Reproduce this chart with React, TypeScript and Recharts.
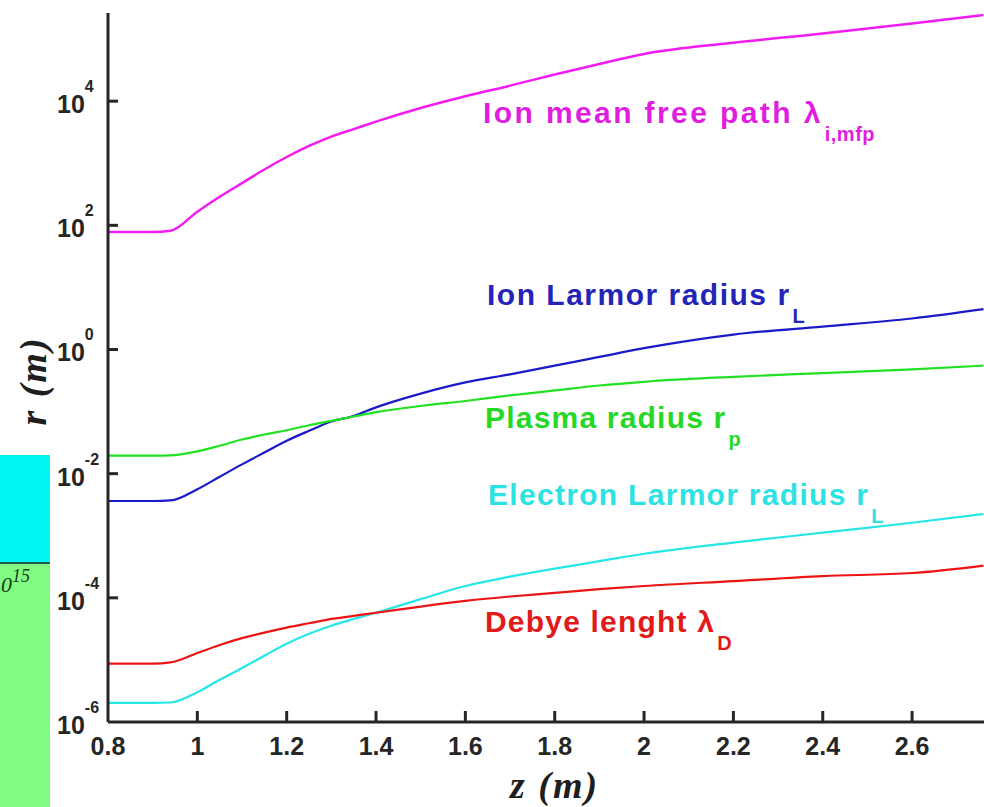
import React from "react";
import { LineChart, Line, XAxis, YAxis } from "recharts";

const zValues = [0.8, 0.9, 0.94, 1.0, 1.05, 1.1, 1.15, 1.2, 1.25, 1.3, 1.35, 1.4, 1.5, 1.6, 1.7, 1.8, 1.9, 2.0, 2.2, 2.4, 2.6, 2.76];

// radii / lengths in m
const ionMeanFreePath = [78, 78, 82, 166, 288, 479, 794, 1260, 1900, 2690, 3550, 4680, 7760, 1.2e4, 1.78e4, 2.69e4, 3.98e4, 5.75e4, 8.71e4, 1.23e5, 1.78e5, 2.45e5];
const ionLarmor = [3.63e-3, 3.63e-3, 3.7e-3, 5.62e-3, 8.91e-3, 1.41e-2, 2.19e-2, 3.39e-2, 4.9e-2, 6.92e-2, 8.51e-2, 0.117, 0.195, 0.295, 0.398, 0.55, 0.759, 1.05, 1.74, 2.34, 3.16, 4.47];
const plasmaRadius = [1.95e-2, 1.95e-2, 1.97e-2, 2.29e-2, 2.82e-2, 3.55e-2, 4.27e-2, 5.01e-2, 6.03e-2, 7.08e-2, 8.32e-2, 9.77e-2, 0.123, 0.148, 0.182, 0.219, 0.263, 0.302, 0.363, 0.417, 0.479, 0.55];
const electronLarmor = [2.04e-6, 2.04e-6, 2.06e-6, 3.02e-6, 4.79e-6, 7.41e-6, 1.17e-5, 1.82e-5, 2.63e-5, 3.55e-5, 4.57e-5, 5.75e-5, 9.55e-5, 1.55e-4, 2.19e-4, 2.95e-4, 3.89e-4, 5.13e-4, 7.76e-4, 1.12e-3, 1.62e-3, 2.24e-3];
const debyeLength = [8.71e-6, 8.71e-6, 9.1e-6, 1.29e-5, 1.74e-5, 2.24e-5, 2.75e-5, 3.31e-5, 3.89e-5, 4.57e-5, 5.13e-5, 5.75e-5, 7.24e-5, 8.91e-5, 1.05e-4, 1.2e-4, 1.38e-4, 1.55e-4, 1.86e-4, 2.24e-4, 2.51e-4, 3.31e-4];

const xTicks = [0.8, 1, 1.2, 1.4, 1.6, 1.8, 2, 2.2, 2.4, 2.6];
const yTicks = [1e-6, 1e-4, 1e-2, 1, 1e2, 1e4];

const X_MIN = 0.8;
const X_MAX = 2.761;
const Y_MIN = 1e-6;
const Y_MAX = 2.63e5;

// plot box (chart margins + axis sizes)
const W = 984;
const H = 807;
const MARGIN = { top: 13, right: 0, bottom: 55, left: 48 };
const Y_AXIS_W = 60;
const X_AXIS_H = 30;
const PLOT_L = MARGIN.left + Y_AXIS_W;
const PLOT_T = MARGIN.top;
const PLOT_W = W - PLOT_L - MARGIN.right;
const PLOT_H = H - MARGIN.top - MARGIN.bottom - X_AXIS_H;

// same mapping as the chart's axes, used for the inward tick marks
const sx = (z: number) => PLOT_L + ((z - X_MIN) / (X_MAX - X_MIN)) * PLOT_W;
const sy = (v: number) =>
  PLOT_T + ((Math.log10(Y_MAX) - Math.log10(v)) / (Math.log10(Y_MAX) - Math.log10(Y_MIN))) * PLOT_H;

const data = zValues.map((z, i) => ({
  z,
  ionMfp: ionMeanFreePath[i],
  ionLarmor: ionLarmor[i],
  plasma: plasmaRadius[i],
  electronLarmor: electronLarmor[i],
  debye: debyeLength[i],
}));

const AXIS = "#262626";
const SANS = "'Liberation Sans', Arial, Helvetica, sans-serif";
const SERIF = "'Liberation Serif', 'Times New Roman', serif";

const YTick = (props: any) => {
  const x = Number(props.x);
  const y = Number(props.y);
  const exp = Math.round(Math.log10(props.payload.value));
  return (
    <text x={x - 51} y={y + 12} fontFamily={SANS} fontWeight="bold" fontSize={25} fill="#262626">
      10
      <tspan dy={-21} fontSize={16}>{exp}</tspan>
    </text>
  );
};

const XTick = (props: any) => {
  const x = Number(props.x);
  const y = Number(props.y);
  return (
    <text x={x} y={y + 33} textAnchor="middle" fontFamily={SANS} fontWeight="bold" fontSize={25} fill="#262626">
      {props.payload.value}
    </text>
  );
};

// curve annotation: main text then a subscript
const Note = ({ x, y, color, text, sub, spacing = 1.2 }: { x: number; y: number; color: string; text: string; sub: string; spacing?: number }) => (
  <text x={x} y={y} fill={color} fontFamily={SANS} fontWeight="bold" fontSize={30} letterSpacing={spacing}>
    {text}
    <tspan dx={2} dy={18} fontSize={20} letterSpacing={0.5}>{sub}</tspan>
  </text>
);

export default function App() {
  return (
    <div style={{ position: "absolute", left: 0, top: 0, width: W, height: H, background: "#fff", overflow: "hidden" }}>
      <LineChart width={W} height={H} data={data} margin={MARGIN}>
        <XAxis
          dataKey="z"
          type="number"
          domain={[X_MIN, X_MAX]}
          ticks={xTicks}
          interval={0}
          allowDataOverflow
          height={X_AXIS_H}
          tickSize={0}
          tickMargin={0}
          tickLine={false}
          axisLine={{ stroke: AXIS, strokeWidth: 3 }}
          tick={<XTick />}
        />
        <YAxis
          type="number"
          scale="log"
          domain={[Y_MIN, Y_MAX]}
          ticks={yTicks}
          interval={0}
          allowDataOverflow
          width={Y_AXIS_W}
          tickSize={0}
          tickMargin={0}
          tickLine={false}
          axisLine={{ stroke: AXIS, strokeWidth: 3 }}
          tick={<YTick />}
        />
        <Line dataKey="ionMfp" type="monotone" stroke="#f21cf2" strokeWidth={2.5} dot={false} isAnimationActive={false} />
        <Line dataKey="ionLarmor" type="monotone" stroke="#1a1ac8" strokeWidth={2.2} dot={false} isAnimationActive={false} />
        <Line dataKey="plasma" type="monotone" stroke="#22e022" strokeWidth={2.2} dot={false} isAnimationActive={false} />
        <Line dataKey="electronLarmor" type="monotone" stroke="#26e6e6" strokeWidth={2.2} dot={false} isAnimationActive={false} />
        <Line dataKey="debye" type="monotone" stroke="#ec1414" strokeWidth={2.2} dot={false} isAnimationActive={false} />
      </LineChart>

      <svg width={W} height={H} style={{ position: "absolute", left: 0, top: 0, pointerEvents: "none" }}>
        {/* inward tick marks */}
        {yTicks.slice(1).map((v) => (
          <line key={`yt-${v}`} x1={PLOT_L} x2={PLOT_L + 10} y1={sy(v)} y2={sy(v)} stroke={AXIS} strokeWidth={3} />
        ))}
        {xTicks.slice(1).map((t) => (
          <line key={`xt-${t}`} x1={sx(t)} x2={sx(t)} y1={PLOT_T + PLOT_H} y2={PLOT_T + PLOT_H - 11} stroke={AXIS} strokeWidth={3} />
        ))}

        {/* piece of the neighbouring figure on the left */}
        <rect x={0} y={455} width={50} height={108} fill="#00f5f5" />
        <rect x={0} y={564} width={50} height={243} fill="#80fc80" />
        <line x1={0} y1={563} x2={50} y2={563} stroke="#1d5a4c" strokeWidth={2} />
        <text x={1} y={592} fontFamily={SERIF} fontStyle="italic" fontSize={22} fill="#1c3a1c">
          0<tspan dy={-10} fontSize={18}>15</tspan>
        </text>

        <Note x={483} y={123} color="#e01ee0" text="Ion mean free path λ" sub="i,mfp" spacing={2.4} />
        <Note x={487} y={305} color="#2424b8" text="Ion Larmor radius r" sub="L" spacing={1.5} />
        <Note x={485} y={428} color="#26d826" text="Plasma radius r" sub="p" />
        <Note x={488} y={505} color="#2ce2e2" text="Electron Larmor radius r" sub="L" spacing={1.3} />
        <Note x={485} y={632} color="#e21a1a" text="Debye lenght λ" sub="D" />

        <text x={510} y={798} fontFamily={SERIF} fontStyle="italic" fontWeight="bold" fontSize={38} letterSpacing={2} fill="#1e1e1e">
          z (m)
        </text>
        <text
          x={0}
          y={0}
          transform="translate(46 381) rotate(-90)"
          textAnchor="middle"
          fontFamily={SERIF}
          fontStyle="italic"
          fontWeight="bold"
          fontSize={38}
          letterSpacing={2}
          fill="#1e1e1e"
        >
          r (m)
        </text>
      </svg>
    </div>
  );
}
